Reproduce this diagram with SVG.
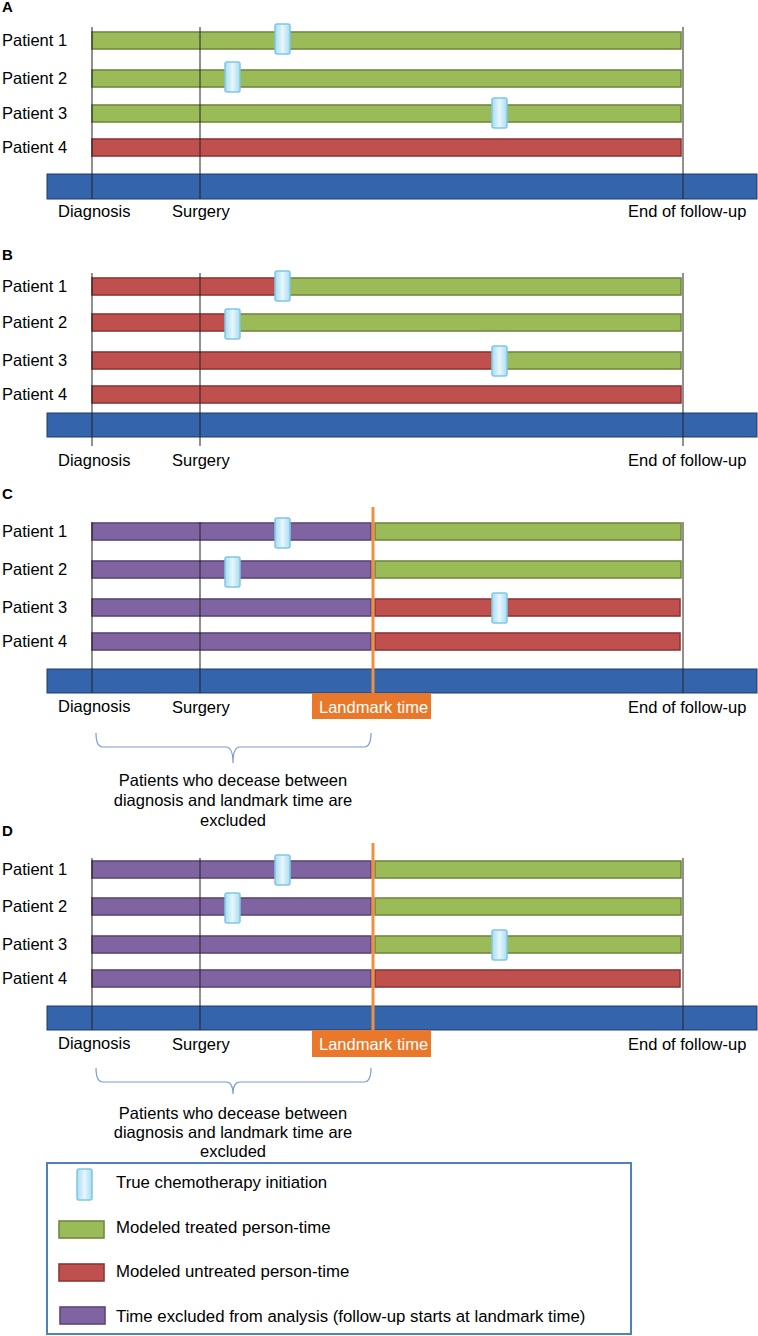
<svg xmlns="http://www.w3.org/2000/svg" width="758" height="1336" viewBox="0 0 758 1336">
<defs>
<linearGradient id="mk" x1="0" y1="0" x2="1" y2="0">
<stop offset="0" stop-color="#A9DDF1"/>
<stop offset="0.5" stop-color="#E6F6FC"/>
<stop offset="1" stop-color="#A9DDF1"/>
</linearGradient>
<style>
text{font-family:"Liberation Sans",Arial,sans-serif;font-size:16.5px;fill:#000}
.hd{font-weight:bold;font-size:15px}
.lg{font-size:16.8px}
.g{fill:#9BBB59;stroke:#71893F;stroke-width:1.6}
.r{fill:#C0504D;stroke:#8C3836;stroke-width:1.6}
.p{fill:#8064A2;stroke:#5C4776;stroke-width:1.6}
.ax{fill:#3464AC;stroke:#1F3B6B;stroke-width:1}
.mk{fill:url(#mk);stroke:#7EC8E3;stroke-width:1.5}
.vl{stroke:#222;stroke-width:1}
.lm{stroke:#F0903E;stroke-width:3}
.lb{fill:#E9782A}
.lt{fill:#fff}
.br{fill:none;stroke:#7A9CCB;stroke-width:1.2}
.mid{text-anchor:middle}
</style>
</defs>

<!-- Panel A -->
<g id="panelA">
<text class="hd" x="2" y="12">A</text>
<rect class="ax" x="47" y="174" width="710" height="25"/>
<rect class="g" x="92" y="32" width="589" height="17"/>
<rect class="g" x="92" y="70" width="589" height="17"/>
<rect class="g" x="92" y="105" width="589" height="17"/>
<rect class="r" x="92" y="139" width="589" height="17"/>
<line class="vl" x1="92" y1="27" x2="92" y2="199"/>
<line class="vl" x1="200" y1="27" x2="200" y2="199"/>
<line class="vl" x1="683" y1="27" x2="683" y2="199"/>
<rect class="mk" x="275" y="24" width="15" height="30" rx="2"/>
<rect class="mk" x="225" y="62" width="15" height="30" rx="2"/>
<rect class="mk" x="492" y="98" width="15" height="30" rx="2"/>
<text x="2" y="46">Patient 1</text>
<text x="2" y="84">Patient 2</text>
<text x="2" y="119">Patient 3</text>
<text x="2" y="153">Patient 4</text>
<text x="58" y="217">Diagnosis</text>
<text x="172" y="217">Surgery</text>
<text x="628" y="217">End of follow-up</text>
</g>

<!-- Panel B -->
<g id="panelB">
<text class="hd" x="2" y="260">B</text>
<rect class="ax" x="47" y="413" width="710" height="24"/>
<rect class="r" x="92" y="278" width="190" height="17"/>
<rect class="g" x="282" y="278" width="399" height="17"/>
<rect class="r" x="92" y="314" width="140" height="17"/>
<rect class="g" x="232" y="314" width="449" height="17"/>
<rect class="r" x="92" y="352" width="408" height="17"/>
<rect class="g" x="500" y="352" width="181" height="17"/>
<rect class="r" x="92" y="386" width="589" height="17"/>
<line class="vl" x1="92" y1="273" x2="92" y2="446"/>
<line class="vl" x1="200" y1="273" x2="200" y2="446"/>
<line class="vl" x1="683" y1="273" x2="683" y2="446"/>
<rect class="mk" x="275" y="271" width="15" height="30" rx="2"/>
<rect class="mk" x="225" y="309" width="15" height="30" rx="2"/>
<rect class="mk" x="492" y="346" width="15" height="30" rx="2"/>
<text x="2" y="292">Patient 1</text>
<text x="2" y="328">Patient 2</text>
<text x="2" y="366">Patient 3</text>
<text x="2" y="400">Patient 4</text>
<text x="58" y="466">Diagnosis</text>
<text x="172" y="466">Surgery</text>
<text x="628" y="466">End of follow-up</text>
</g>

<!-- Panel C -->
<g id="panelC">
<text class="hd" x="2" y="499">C</text>
<rect class="ax" x="47" y="669" width="710" height="24"/>
<rect class="p" x="92" y="523" width="279" height="17"/>
<rect class="g" x="375" y="523" width="306" height="17"/>
<rect class="p" x="92" y="561" width="279" height="17"/>
<rect class="g" x="375" y="561" width="306" height="17"/>
<rect class="p" x="92" y="599" width="279" height="17"/>
<rect class="r" x="375" y="599" width="305" height="17"/>
<rect class="p" x="92" y="633" width="279" height="17"/>
<rect class="r" x="375" y="633" width="305" height="17"/>
<line class="vl" x1="92" y1="522" x2="92" y2="693"/>
<line class="vl" x1="200" y1="522" x2="200" y2="693"/>
<line class="vl" x1="683" y1="522" x2="683" y2="693"/>
<rect class="mk" x="275" y="518" width="15" height="30" rx="2"/>
<rect class="mk" x="225" y="557" width="15" height="30" rx="2"/>
<rect class="mk" x="492" y="593" width="15" height="30" rx="2"/>
<line class="lm" x1="373" y1="507" x2="373" y2="693"/>
<rect class="lb" x="312" y="693" width="119" height="26"/>
<text class="lt" x="319" y="713">Landmark time</text>
<text x="2" y="537">Patient 1</text>
<text x="2" y="575">Patient 2</text>
<text x="2" y="613">Patient 3</text>
<text x="2" y="647">Patient 4</text>
<text x="58" y="712">Diagnosis</text>
<text x="172" y="713">Surgery</text>
<text x="628" y="713">End of follow-up</text>
<path class="br" d="M96,733 Q96,747 103,747 L226,747 Q233,747 233,763 Q233,747 240,747 L364,747 Q371,747 371,733"/>
<text class="mid" x="233" y="786">Patients who decease between</text>
<text class="mid" x="233" y="806">diagnosis and landmark time are</text>
<text class="mid" x="233" y="826">excluded</text>
</g>

<!-- Panel D -->
<g id="panelD">
<text class="hd" x="2" y="836">D</text>
<rect class="ax" x="47" y="1006" width="710" height="24"/>
<rect class="p" x="92" y="861" width="279" height="17"/>
<rect class="g" x="375" y="861" width="306" height="17"/>
<rect class="p" x="92" y="898" width="279" height="17"/>
<rect class="g" x="375" y="898" width="306" height="17"/>
<rect class="p" x="92" y="936" width="279" height="17"/>
<rect class="g" x="375" y="936" width="306" height="17"/>
<rect class="p" x="92" y="970" width="279" height="17"/>
<rect class="r" x="375" y="970" width="305" height="17"/>
<line class="vl" x1="92" y1="858" x2="92" y2="1030"/>
<line class="vl" x1="200" y1="858" x2="200" y2="1030"/>
<line class="vl" x1="683" y1="858" x2="683" y2="1030"/>
<rect class="mk" x="275" y="855" width="15" height="30" rx="2"/>
<rect class="mk" x="225" y="893" width="15" height="30" rx="2"/>
<rect class="mk" x="492" y="930" width="15" height="30" rx="2"/>
<line class="lm" x1="373" y1="843" x2="373" y2="1030"/>
<rect class="lb" x="312" y="1030" width="119" height="27"/>
<text class="lt" x="319" y="1050">Landmark time</text>
<text x="2" y="875">Patient 1</text>
<text x="2" y="912">Patient 2</text>
<text x="2" y="950">Patient 3</text>
<text x="2" y="984">Patient 4</text>
<text x="58" y="1049">Diagnosis</text>
<text x="172" y="1050">Surgery</text>
<text x="628" y="1050">End of follow-up</text>
<path class="br" d="M96,1068 Q96,1082 103,1082 L226,1082 Q233,1082 233,1094 Q233,1082 240,1082 L364,1082 Q371,1082 371,1068"/>
<text class="mid" x="233" y="1119">Patients who decease between</text>
<text class="mid" x="233" y="1138">diagnosis and landmark time are</text>
<text class="mid" x="233" y="1157">excluded</text>
</g>

<!-- Legend -->
<g id="legend">
<rect x="47" y="1163" width="584" height="171" fill="#fff" stroke="#4F81BD" stroke-width="2"/>
<rect class="mk" x="77" y="1169" width="15" height="31" rx="2"/>
<text class="lg" x="116" y="1188">True chemotherapy initiation</text>
<rect class="g" x="59" y="1221" width="45" height="17"/>
<text class="lg" x="116" y="1233">Modeled treated person-time</text>
<rect class="r" x="59" y="1264" width="45" height="17"/>
<text class="lg" x="116" y="1277">Modeled untreated person-time</text>
<rect class="p" x="60" y="1307" width="45" height="17"/>
<text class="lg" x="116" y="1322">Time excluded from analysis (follow-up starts at landmark time)</text>
</g>
</svg>
